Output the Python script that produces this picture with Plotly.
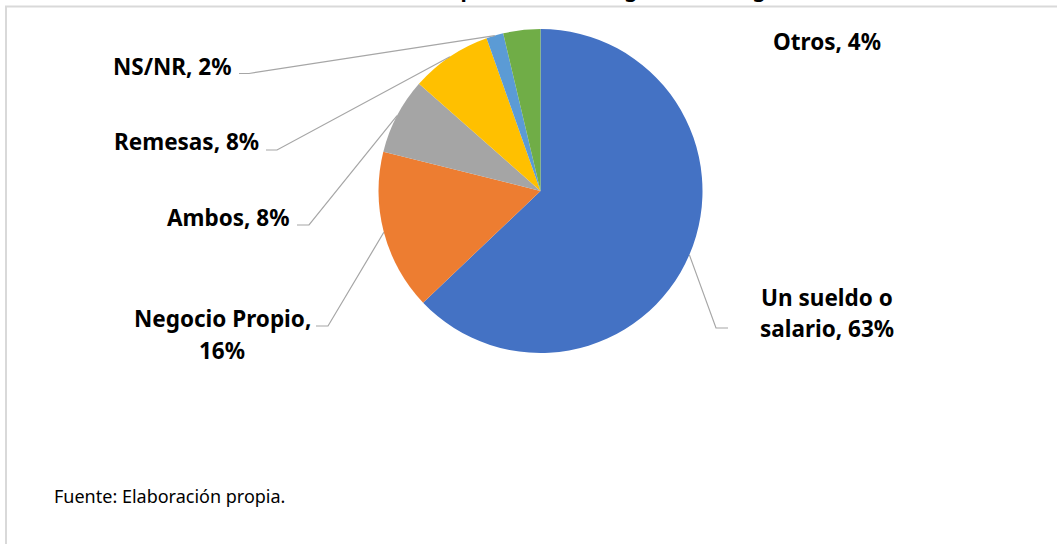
import math
import plotly.graph_objects as go

# ---- data ----
categories = ["Un sueldo o salario", "Negocio Propio", "Ambos", "Remesas", "NS/NR", "Otros"]
values = [62.9, 16.0, 7.6, 8.1, 1.7, 3.7]
colors = ["#4472C4", "#ED7D31", "#A5A5A5", "#FFC000", "#5B9BD5", "#70AD47"]
title_text = "Gráfico 10. Principal fuente de ingreso del hogar"
source_text = "Fuente: Elaboración propia."

W, H = 1057, 544
CX, CY, R = 540.5, 191.0, 162.0   # pie centre / radius in pixels (layout)

def px(x):
    return x / W

def py(y):
    return 1 - y / H

FONT = "Noto Sans"
LBL_SIZE = 22.5

fig = go.Figure(go.Pie(
    labels=categories,
    values=values,
    sort=False,
    direction="clockwise",
    rotation=0,
    marker=dict(colors=colors, line=dict(width=0)),
    textinfo="none",
    hoverinfo="label+percent",
    showlegend=False,
    domain=dict(x=[px(CX - R), px(CX + R)], y=[py(CY + R), py(CY - R)]),
))

# slice mid angles (degrees clockwise from 12 o'clock), derived from data
total = sum(values)
mids = []
acc = 0.0
for v in values:
    mids.append((acc + v / 2) / total * 360.0)
    acc += v

def edge_point(i):
    a = math.radians(mids[i])
    return CX + R * math.sin(a), CY - R * math.cos(a)

pct = [f"{round(v / total * 100)}%" for v in values]

# label layout: (lines, x, [y per line], xanchor, leader (x_start, x_kink, y) or None)
label_layout = {
    0: (["Un sueldo o", "salario, " + pct[0]], 827, [297, 328], "center", (728, 716, 328)),
    1: (["Negocio Propio,", pct[1]], 222, [318.5, 350.5], "center", (316, 328, 326)),
    2: (["Ambos, " + pct[2]], 292, [217], "right", (297, 309, 225)),
    3: (["Remesas, " + pct[3]], 261, [142], "right", (266, 277, 150)),
    4: (["NS/NR, " + pct[4]], 234, [66], "right", (239, 249, 73.5)),
    5: (["Otros, " + pct[5]], 827, [41.5], "center", None),
}

annotations = []
shapes = []
for i, (lines, x, ys, xa, leader) in label_layout.items():
    for txt, y in zip(lines, ys):
        annotations.append(dict(
            text="<b>" + txt + "</b>", x=px(x), y=py(y), xref="paper", yref="paper",
            xanchor=xa, yanchor="middle", showarrow=False, align="center",
            font=dict(family=FONT, size=LBL_SIZE, color="#000000"),
        ))
    if leader is not None:
        xs, xk, yk = leader
        ex, ey = edge_point(i)
        shapes.append(dict(
            type="path", xref="paper", yref="paper",
            path=f"M {px(xs)} {py(yk)} L {px(xk)} {py(yk)} L {px(ex)} {py(ey)}",
            line=dict(color="#A6A6A6", width=1.2),
        ))

# chart frame
shapes.append(dict(type="rect", xref="paper", yref="paper",
                   x0=px(6), y0=py(560), x1=px(1070), y1=py(6.5),
                   line=dict(color="#D9D9D9", width=2), layer="below"))

# title (mostly cropped at top as in the reference)
annotations.append(dict(
    text="<b>" + title_text + "</b>", x=px(536), y=py(5), xref="paper", yref="paper",
    xanchor="center", yanchor="bottom", showarrow=False,
    font=dict(family=FONT, size=21, color="#000000"),
))

# source
annotations.append(dict(
    text=source_text, x=px(52), y=py(496), xref="paper", yref="paper",
    xanchor="left", yanchor="middle", showarrow=False,
    font=dict(family=FONT, size=18, color="#000000"),
))

fig.update_layout(
    width=W, height=H,
    margin=dict(l=0, r=0, t=0, b=0),
    paper_bgcolor="#FFFFFF",
    plot_bgcolor="#FFFFFF",
    annotations=annotations,
    shapes=shapes,
)

fig.write_html("out.html", config={"displayModeBar": False},
               post_script="document.body.style.margin='0';")
